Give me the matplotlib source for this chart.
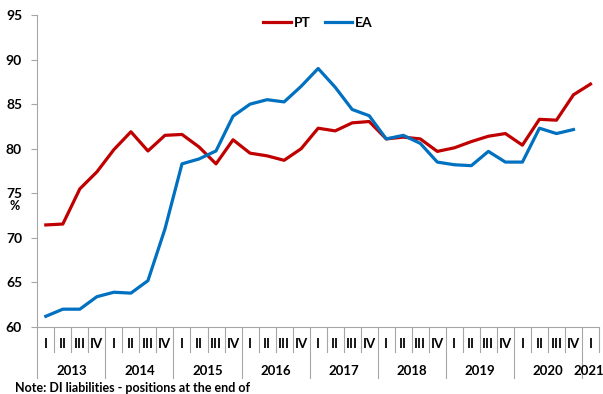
import numpy as np
import matplotlib
matplotlib.use("Agg")
import matplotlib.pyplot as plt

# quarterly series, 2013 Q1 - 2021 Q1 (%)
years = ["2013", "2014", "2015", "2016", "2017", "2018", "2019", "2020", "2021"]
quarters = ["I", "II", "III", "IV"]
pt = [71.45, 71.55, 75.5, 77.4, 79.9, 81.9, 79.75, 81.5, 81.6, 80.2, 78.3,
      81.0, 79.5, 79.2, 78.7, 80.0, 82.3, 82.0, 82.9, 83.05, 81.1, 81.3,
      81.1, 79.7, 80.1, 80.8, 81.4, 81.7, 80.4, 83.3, 83.2, 86.05, 87.25]
ea = [61.2, 62.0, 62.0, 63.4, 63.9, 63.8, 65.2, 71.0, 78.3, 78.85, 79.75,
      83.65, 85.0, 85.5, 85.25, 87.0, 89.0, 86.9, 84.4, 83.7, 81.1, 81.5,
      80.6, 78.5, 78.2, 78.1, 79.7, 78.5, 78.5, 82.3, 81.7, 82.15]

plt.rcParams['font.family'] = ['Lato', 'DejaVu Sans']
plt.rcParams['font.weight'] = 'bold'

W, H = 603, 394
fig = plt.figure(figsize=(W / 100, H / 100), dpi=100, facecolor='white')
ax = fig.add_axes([37.3 / W, (H - 327) / H, 561.7 / W, 312 / H])

n = len(pt)
ax.plot(np.arange(len(pt)), pt, color='#C00000', lw=2.3, label='PT')
ax.plot(np.arange(len(ea)), ea, color='#0070C0', lw=2.3, label='EA')

ax.set_xlim(-0.5, n - 0.5)
ax.set_ylim(60, 95)
ax.set_yticks(np.arange(60, 96, 5))
ax.tick_params(axis='y', direction='out', length=4, width=0.8, color='#A6A6A6',
               pad=7, labelsize=10, labelcolor='#000000')
ax.set_xticks([])

for s in ['top', 'right']:
    ax.spines[s].set_visible(False)
for s in ['left', 'bottom']:
    ax.spines[s].set_color('#A6A6A6')
    ax.spines[s].set_linewidth(0.8)

# two-level category axis: quarters, then years
q_drop = 25 / 312
y_drop = 51 / 312
trans = ax.get_xaxis_transform()
for b in range(n + 1):
    x = b - 0.5
    low = -y_drop if (b % 4 == 0) else -q_drop
    ax.plot([x, x], [0, low], transform=trans, color='#A6A6A6', lw=0.8, clip_on=False)
for i in range(n):
    ax.text(i, -17 / 312, quarters[i % 4], transform=trans, ha='center', va='center',
            fontsize=9.5, fontweight='bold')
for k, yr in enumerate(years):
    first = k * 4
    last = min(first + 3, n - 1)
    xc = (first + last) / 2 if last > first else last - 0.1
    ax.text(xc, -44 / 312, yr, transform=trans, ha='center', va='center',
            fontsize=9.5, fontweight='bold')

fig.text(15 / W, 1 - 206 / H, '%', ha='center', va='center', fontsize=9, fontweight='bold')

ax.legend(loc='upper center', bbox_to_anchor=(0.5, 1.035), ncol=2, frameon=False,
          handlelength=2.0, handletextpad=0.2, columnspacing=1.0,
          prop={'weight': 'bold', 'size': 10})

fig.text(15 / W, 1 - 388 / H, 'Note: DI liabilities - positions at the end of',
         ha='left', va='center', fontsize=9, fontweight='bold')

fig.savefig('out.png', dpi=100, facecolor='white')
